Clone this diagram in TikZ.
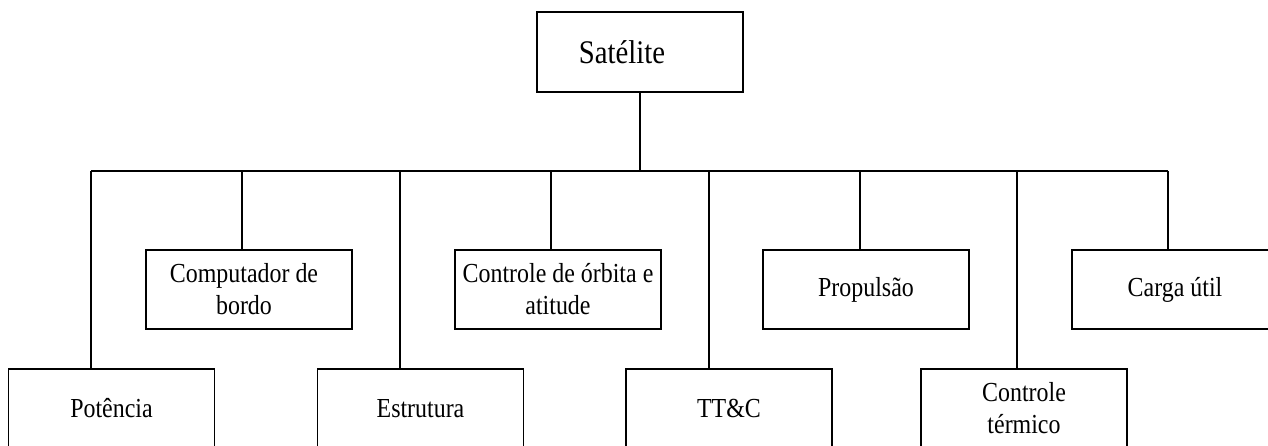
\documentclass[tikz,border=0pt]{standalone}
\usepackage{fontspec}
\newfontfamily\cf[FakeStretch=0.87]{Liberation Serif}
\begin{document}
\begin{tikzpicture}[x=1pt,y=-1pt,
  box/.style={draw, line width=1.2pt, inner sep=0pt, minimum width=206pt, minimum height=79pt, align=center, font={\cf\fontsize{27.5}{32}\selectfont}},
  conn/.style={line width=1.2pt}]
\useasboundingbox (0,0) rectangle (1268,446);
\clip (0,0) rectangle (1268,446);
\node[box, minimum height=80pt, font={\cf\fontsize{33}{38}\selectfont}] (sat) at (640,52) {Satélite\hspace*{36pt}};
\node[box] (comp) at (249,289.5) {Computador de\hspace*{10pt}\\bordo\hspace*{10pt}};
\node[box] (orb) at (558,289.5) {Controle de órbita e\\atitude};
\node[box] (prop) at (866,289.5) {Propulsão};
\node[box] (carga) at (1175,289.5) {Carga útil};
\node[box] (pot) at (111.5,408.5) {Potência};
\node[box] (est) at (420.5,408.5) {Estrutura};
\node[box] (ttc) at (729,408.5) {TT\&C};
\node[box] (term) at (1024,408.5) {Controle\\térmico};
\coordinate (tpot) at (91,171);
\coordinate (tcomp) at (242,171);
\coordinate (test) at (400,171);
\coordinate (torb) at (551,171);
\coordinate (tttc) at (709,171);
\coordinate (tprop) at (860,171);
\coordinate (tterm) at (1017,171);
\coordinate (tcarga) at (1168,171);
\draw[conn] (sat.south) -- (sat.south |- tpot);
\draw[conn] (tpot) -- (tcarga);
\draw[conn] (tpot) -- (tpot |- pot.north);
\draw[conn] (tcomp) -- (tcomp |- comp.north);
\draw[conn] (test) -- (test |- est.north);
\draw[conn] (torb) -- (torb |- orb.north);
\draw[conn] (tttc) -- (tttc |- ttc.north);
\draw[conn] (tprop) -- (tprop |- prop.north);
\draw[conn] (tterm) -- (tterm |- term.north);
\draw[conn] (tcarga) -- (tcarga |- carga.north);
\end{tikzpicture}
\end{document}
